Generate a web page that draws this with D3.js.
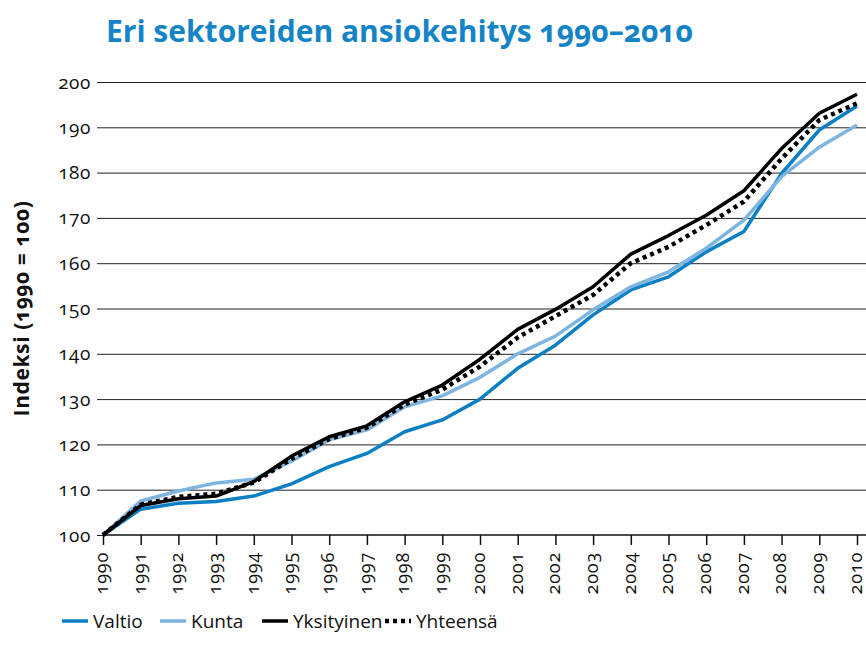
<!DOCTYPE html>
<html>
<head>
<meta charset="utf-8">
<script src="https://cdn.jsdelivr.net/npm/d3@7"></script>
<style>
  body { margin: 0; background: #fff; }
  #chart { width: 866px; height: 660px; }
  text { font-family: "Open Sans", "Noto Sans", sans-serif; font-variant-numeric: oldstyle-nums; }
</style>
</head>
<body>
<div id="chart"></div>
<script>
const years = d3.range(1990, 2011);
const valtio = [100, 105.7, 107.0, 107.4, 108.6, 111.3, 115.1, 118.0, 122.8, 125.4, 130.0, 136.8, 141.9, 148.6, 154.1, 157.0, 162.5, 167.0, 179.8, 189.4, 194.7];
const kunta = [100, 107.5, 109.7, 111.5, 112.3, 116.3, 121.0, 123.2, 128.3, 130.7, 134.8, 140.0, 143.9, 149.7, 154.8, 158.1, 163.3, 169.5, 179.1, 185.6, 190.5];
const yksityinen = [100, 106.5, 108.0, 108.6, 111.8, 117.4, 121.7, 124.1, 129.4, 133.1, 138.8, 145.4, 149.8, 154.8, 162.0, 166.1, 170.6, 176.0, 185.3, 193.1, 197.3];
const yhteensa = [100, 106.7, 108.4, 109.1, 111.6, 116.8, 121.2, 123.7, 128.8, 132.1, 137.2, 143.6, 148.3, 153.0, 160.0, 163.6, 168.4, 173.6, 183.1, 191.6, 195.3];
const yTicks = d3.range(100, 201, 10);

const series = [
  { name: "Valtio", values: valtio, color: "#0a7fc4", dash: null, width: 3.5 },
  { name: "Kunta", values: kunta, color: "#7db5e0", dash: null, width: 3.5 },
  { name: "Yksityinen", values: yksityinen, color: "#000", dash: null, width: 3.5 },
  { name: "Yhteensä", values: yhteensa, color: "#000", dash: "4,4", width: 4.5 },
];

const width = 866;
const height = 660;
const margin = { top: 82, right: 9, bottom: 125, left: 103 };

const svg = d3
  .select("#chart")
  .append("svg")
  .attr("width", width)
  .attr("height", height);

const x = d3.scaleLinear().domain([1990, 2010]).range([margin.left, width - margin.right]);
const y = d3.scaleLinear().domain([100, 200]).range([height - margin.bottom, margin.top]);

svg.append("text")
  .attr("x", 106)
  .attr("y", 42)
  .attr("fill", "#1584c7")
  .attr("font-size", 30)
  .attr("font-weight", "bold")
  .text("Eri sektoreiden ansiokehitys 1990–2010");

// gridlines + y labels
svg.append("g")
  .attr("transform", `translate(${margin.left}, 0)`)
  .call(d3.axisLeft(y).tickValues(yTicks).tickSize(6).tickPadding(6))
  .call((g) => g.select(".domain").remove())
  .call((g) => g.selectAll(".tick line").attr("stroke", "#222"))
  .call((g) => g.selectAll(".tick text").attr("fill", "#111").attr("font-size", 19).attr("letter-spacing", 0.6))
  .call((g) => g.selectAll(".tick").filter((d) => d > 100)
    .append("line")
    .attr("x1", 0)
    .attr("x2", width - margin.left)
    .attr("stroke", "#222")
    .attr("stroke-width", 1));

// x axis
svg.append("g")
  .attr("transform", `translate(0, ${y(100)})`)
  .call(d3.axisBottom(x).tickValues(years).tickFormat(d3.format("d")).tickSize(10).tickSizeOuter(0))
  .call((g) => g.select(".domain").attr("d", `M${margin.left},0H${width}`).attr("stroke", "#111").attr("stroke-width", 1.5))
  .call((g) => g.selectAll(".tick line").attr("stroke", "#111").attr("stroke-width", 1.5))
  .call((g) => g.selectAll(".tick text")
    .attr("fill", "#111")
    .attr("font-size", 18)
    .attr("letter-spacing", 0.8)
    .attr("transform", "rotate(-90)")
    .attr("text-anchor", "end")
    .attr("x", -17)
    .attr("y", -2)
    .attr("dy", "0.35em"));

svg.append("text")
  .attr("transform", `translate(29, ${y(150)}) rotate(-90)`)
  .attr("text-anchor", "middle")
  .attr("font-size", 21)
  .attr("font-weight", "bold")
  .attr("letter-spacing", 0.6)
  .attr("fill", "#111")
  .text("Indeksi (1990 = 100)");

const line = d3.line()
  .x((d, i) => x(years[i]))
  .y((d) => y(d));

svg.append("g")
  .selectAll("path")
  .data(series)
  .enter()
  .append("path")
  .attr("d", (d) => line(d.values))
  .attr("fill", "none")
  .attr("stroke", (d) => d.color)
  .attr("stroke-width", (d) => d.width)
  .attr("stroke-dasharray", (d) => d.dash)
  .attr("stroke-linejoin", "round");

const legendX = [62, 160, 262, 385];
const legend = svg.append("g").attr("transform", "translate(0, 621)");

series.forEach((s, i) => {
  const entry = legend.append("g").attr("transform", `translate(${legendX[i]}, 0)`);
  entry.append("line")
    .attr("x1", 0)
    .attr("x2", 26)
    .attr("stroke", s.color)
    .attr("stroke-width", s.width)
    .attr("stroke-dasharray", s.dash);
  entry.append("text")
    .attr("x", 31)
    .attr("dy", "0.35em")
    .attr("font-size", 19)
    .attr("fill", "#111")
    .text(s.name);
});
</script>
</body>
</html>
